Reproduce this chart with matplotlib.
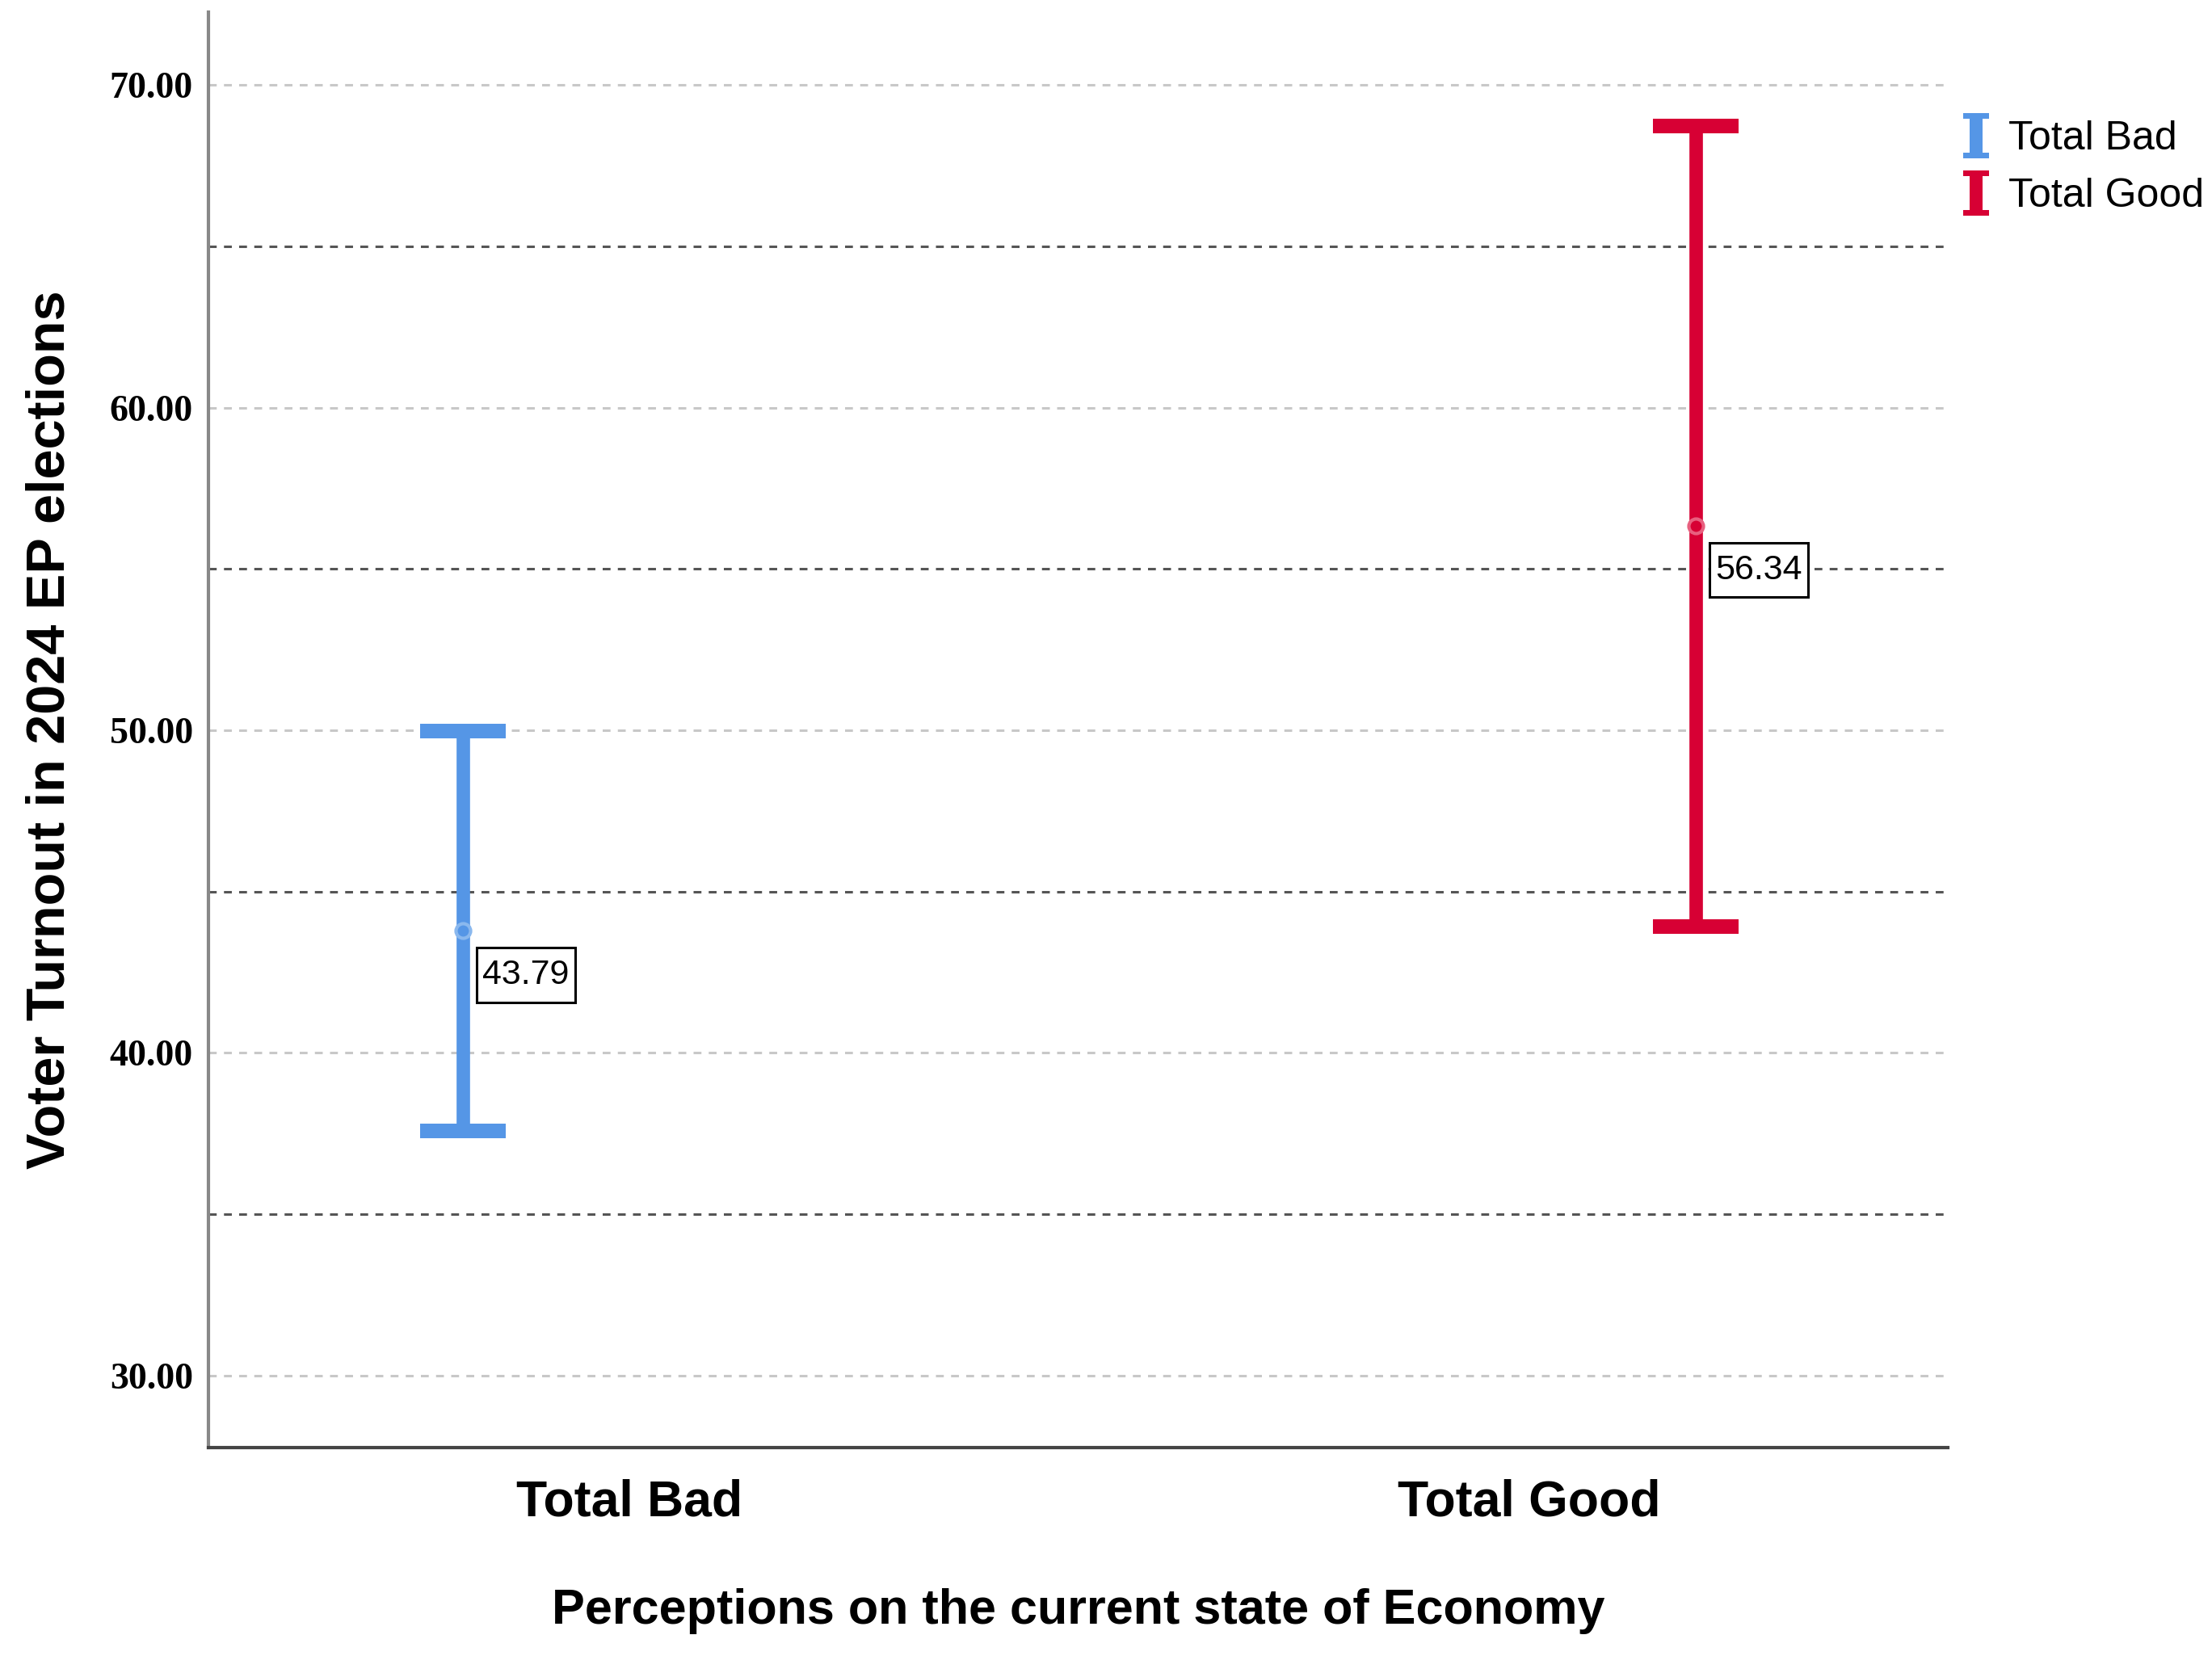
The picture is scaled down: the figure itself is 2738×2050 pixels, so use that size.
import matplotlib.pyplot as plt
import numpy as np
from matplotlib.path import Path
from matplotlib.lines import Line2D

plt.rcParams['lines.scale_dashes'] = False

cats = ['Total Bad', 'Total Good']
means = [43.79, 56.34]
lower = [37.59, 43.92]
upper = [49.97, 68.72]
colors = ['#5596E6', '#D70034']
light = ['#8AB8EE', '#E8607F']
yticks = [30, 40, 50, 60, 70]
minor = [35, 45, 55, 65]


def tallbox(x0, y0, width, height, mutation_size):
    # label box with more room above and below than at the sides
    px = 0.17 * mutation_size
    py = 0.32 * mutation_size
    x0, y0 = x0 - px, y0 - py
    x1, y1 = x0 + width + 2 * px, y0 + height + 2 * py
    return Path([(x0, y0), (x1, y0), (x1, y1), (x0, y1), (x0, y0)], closed=True)


fig = plt.figure(figsize=(27.38, 20.5), dpi=100)
ax = fig.add_axes([0.0943, 0.1259, 0.8806 - 0.0943, 0.9927 - 0.1259])

offs = [-0.185, 0.185]
x = np.arange(len(cats))

# grid lines
for v in yticks:
    ax.axhline(v, color='#C8C8C8', lw=2.2, ls=(0, (7, 6.5)), zorder=1)
for v in minor:
    ax.axhline(v, color='#555555', lw=2.2, ls=(0, (7, 6.5)), zorder=1)

# I-beam marker for legend
ib = Path([(-0.28, 0.5), (0.28, 0.5), (0.28, 0.37), (0.15, 0.37), (0.15, -0.37),
           (0.28, -0.37), (0.28, -0.5), (-0.28, -0.5), (-0.28, -0.37), (-0.15, -0.37),
           (-0.15, 0.37), (-0.28, 0.37), (-0.28, 0.5)], closed=True)

handles = []
for i in range(len(cats)):
    xi = x[i] + offs[i]
    ax.errorbar([xi], [means[i]], yerr=[[means[i] - lower[i]], [upper[i] - means[i]]],
                fmt='none', ecolor=colors[i], elinewidth=12, capsize=38, capthick=13, zorder=3)
    ax.plot([xi], [means[i]], 'o', mfc='none', mec=light[i], mew=3, ms=13, zorder=4)
    ax.annotate('{:.2f}'.format(means[i]), xy=(xi, means[i]), xytext=(17, -25),
                textcoords='offset points', ha='left', va='top', fontsize=31,
                family='Liberation Sans', zorder=5,
                bbox=dict(boxstyle=tallbox, fc='white', ec='black', lw=2.2))
    handles.append(Line2D([], [], ls='none', marker=ib, ms=40, mfc=colors[i], mec=colors[i], mew=0))

ax.set_xlim(-0.468, 1.465)
ax.set_ylim(27.77, 72.26)
ax.set_xticks(x)
ax.set_xticklabels(cats, fontsize=45, fontweight='bold', family='Liberation Sans')
ax.set_yticks(yticks)
ax.set_yticklabels(['{:.2f}'.format(v) for v in yticks], fontsize=33, fontweight='bold',
                   family='Liberation Serif')
ax.tick_params(length=0)
ax.tick_params(axis='y', pad=14)
ax.tick_params(axis='x', pad=28)

for s in ['top', 'right']:
    ax.spines[s].set_visible(False)
ax.spines['left'].set_color('#888888')
ax.spines['left'].set_linewidth(3)
ax.spines['bottom'].set_color('#444444')
ax.spines['bottom'].set_linewidth(3)

ax.set_xlabel('Perceptions on the current state of Economy', fontsize=44, fontweight='bold',
              family='Liberation Sans', labelpad=55)
ax.set_ylabel('Voter Turnout in 2024 EP elections', fontsize=48, fontweight='bold',
              family='Liberation Sans', labelpad=30)

leg = fig.legend(handles, cats, loc='upper left', bbox_to_anchor=(0.8806, 0.937), frameon=False,
                 prop={'family': 'Liberation Sans', 'size': 36}, handlelength=0.6,
                 handletextpad=0.5, labelspacing=0.5, borderaxespad=0)

fig.savefig('out.png', dpi=100)
